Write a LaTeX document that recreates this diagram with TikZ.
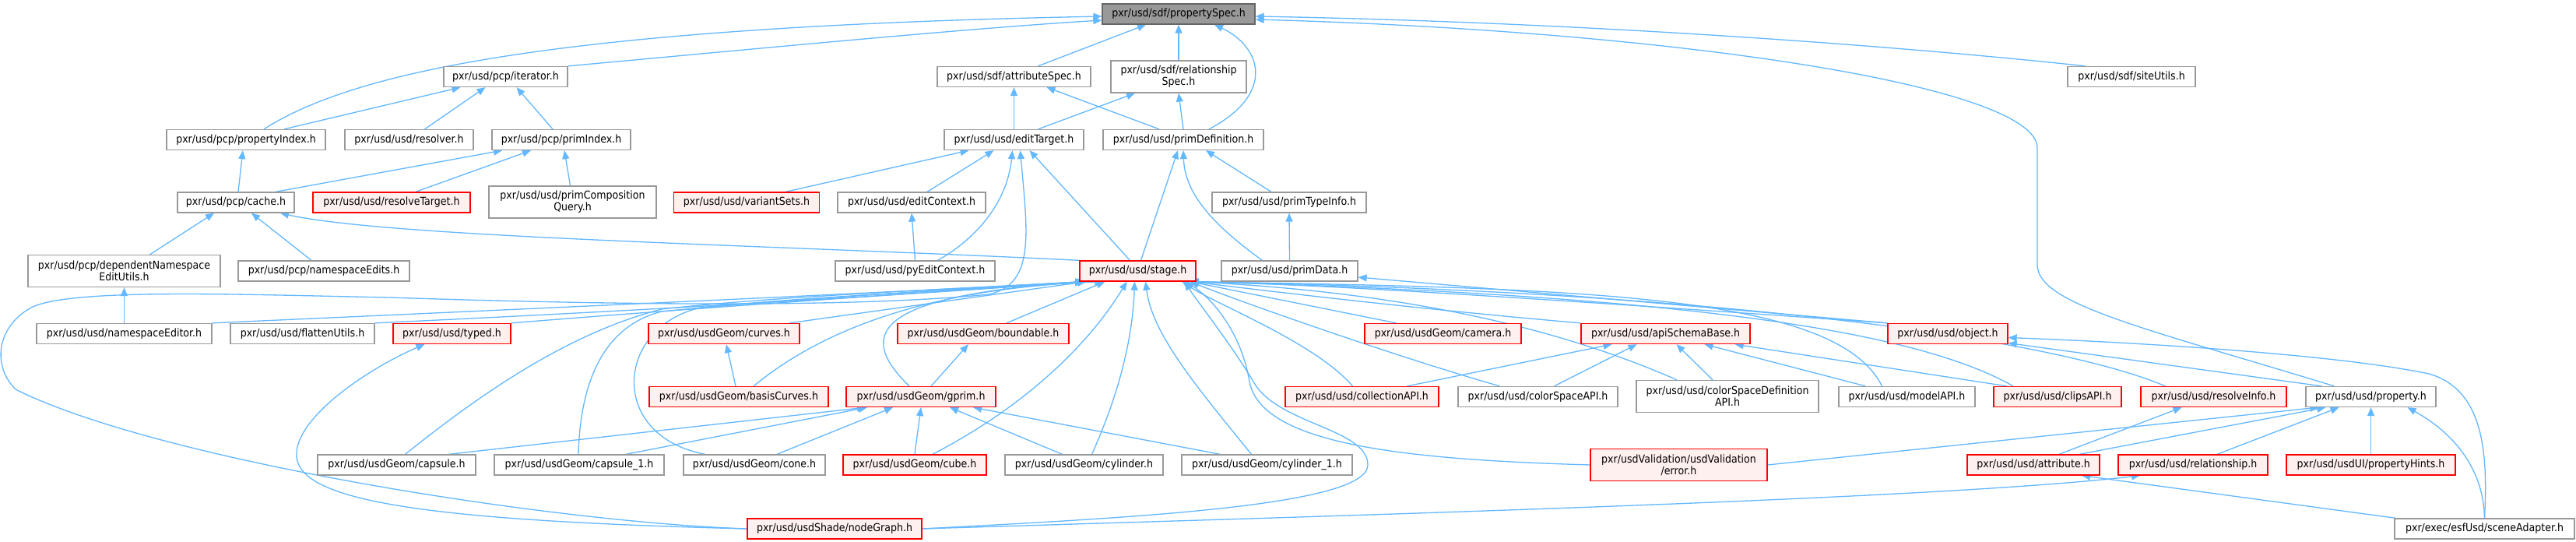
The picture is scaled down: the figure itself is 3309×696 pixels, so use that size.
\documentclass[tikz,border=0pt]{standalone}
\usepackage{fontspec}
\setmainfont{DejaVu Sans}[FakeStretch=0.9]
\usetikzlibrary{arrows.meta,backgrounds}

\definecolor{edgeblue}{HTML}{63B8FF}
\definecolor{boxgray}{HTML}{999999}
\definecolor{rootline}{HTML}{666666}
\definecolor{truncfill}{HTML}{FFF0F0}
\newcommand{\dxfont}{\fontsize{14}{15}\selectfont}

\tikzset{
  file/.style={draw=boxgray, fill=white, line width=1.3pt, minimum height=26pt, inner sep=0pt, font=\dxfont, align=center},
  trunc/.style={file, draw=red, fill=truncfill},
  rootfile/.style={file, draw=rootline, fill=boxgray},
  twoline/.style={minimum height=41pt},
  edge/.style={draw=edgeblue, line width=1.3pt, -{Triangle[length=11pt,width=9pt]}}
}

\begin{document}
\begin{tikzpicture}[x=1pt,y=-1pt]
\useasboundingbox (0,0) rectangle (3309,696);

% Text Nodes
\node[rootfile, minimum width=196pt] (spec) at (1514,18) {pxr/usd/sdf/propertySpec.h};
\node[file, minimum width=159pt] (iter) at (649.5,98.5) {pxr/usd/pcp/iterator.h};
\node[file, minimum width=197pt] (attrspec) at (1302.5,98.5) {pxr/usd/sdf/attributeSpec.h};
\node[file, twoline, minimum width=174pt] (relspec) at (1514,98.5) {pxr/usd/sdf/relationship\\Spec.h};
\node[file, minimum width=164pt] (siteutils) at (2738,98.5) {pxr/usd/sdf/siteUtils.h};

\node[file, minimum width=204pt] (propidx) at (316,179.5) {pxr/usd/pcp/propertyIndex.h};
\node[file, minimum width=165pt] (resolver) at (525.5,179.5) {pxr/usd/usd/resolver.h};
\node[file, minimum width=178pt] (primidx) at (721,179.5) {pxr/usd/pcp/primIndex.h};
\node[file, minimum width=179pt] (edittgt) at (1302.5,179.5) {pxr/usd/usd/editTarget.h};
\node[file, minimum width=206pt] (primdef) at (1520,179.5) {pxr/usd/usd/primDefinition.h};

\node[file, minimum width=150pt] (cache) at (303,260) {pxr/usd/pcp/cache.h};
\node[trunc, minimum width=202pt] (restgt) at (503,260) {pxr/usd/usd/resolveTarget.h};
\node[file, twoline, minimum width=215pt] (compq) at (735.5,259.5) {pxr/usd/usd/primComposition\\Query.h};
\node[trunc, minimum width=187pt] (variants) at (959,260) {pxr/usd/usd/variantSets.h};
\node[file, minimum width=190pt] (editctx) at (1171,260) {pxr/usd/usd/editContext.h};
\node[file, minimum width=198pt] (primtype) at (1656,260) {pxr/usd/usd/primTypeInfo.h};

\node[file, twoline, minimum width=247pt] (depns) at (159.5,348) {pxr/usd/pcp/dependentNamespace\\EditUtils.h};
\node[file, minimum width=220pt] (nsedits) at (416,348) {pxr/usd/pcp/namespaceEdits.h};
\node[file, minimum width=205pt] (pyedit) at (1175.5,348) {pxr/usd/usd/pyEditContext.h};
\node[trunc, minimum width=149pt] (stage) at (1461.5,348) {pxr/usd/usd/stage.h};
\node[file, minimum width=175pt] (primdata) at (1656.5,348) {pxr/usd/usd/primData.h};

\node[file, minimum width=225pt] (nseditor) at (159.5,428.5) {pxr/usd/usd/namespaceEditor.h};
\node[file, minimum width=185pt] (flatten) at (388.5,428.5) {pxr/usd/usd/flattenUtils.h};
\node[trunc, minimum width=151pt] (typed) at (580.5,428.5) {pxr/usd/usd/typed.h};
\node[trunc, minimum width=194pt] (curves) at (930,428.5) {pxr/usd/usdGeom/curves.h};
\node[trunc, minimum width=220pt] (bound) at (1263,428.5) {pxr/usd/usdGeom/boundable.h};
\node[trunc, minimum width=201pt] (camera) at (1853.5,428.5) {pxr/usd/usdGeom/camera.h};
\node[trunc, minimum width=217pt] (apibase) at (2139.5,428.5) {pxr/usd/usd/apiSchemaBase.h};
\node[trunc, minimum width=154pt] (object) at (2502,428.5) {pxr/usd/usd/object.h};

\node[trunc, minimum width=230pt] (basis) at (949,509.5) {pxr/usd/usdGeom/basisCurves.h};
\node[trunc, minimum width=192pt] (gprim) at (1183,509.5) {pxr/usd/usdGeom/gprim.h};
\node[trunc, minimum width=197pt] (collapi) at (1749.5,509.5) {pxr/usd/usd/collectionAPI.h};
\node[file, minimum width=205pt] (colorapi) at (1975.5,509.5) {pxr/usd/usd/colorSpaceAPI.h};
\node[file, twoline, minimum width=234pt] (colordef) at (2219,509) {pxr/usd/usd/colorSpaceDefinition\\API.h};
\node[file, minimum width=175pt] (model) at (2449.5,509.5) {pxr/usd/usd/modelAPI.h};
\node[trunc, minimum width=164pt] (clips) at (2643,509.5) {pxr/usd/usd/clipsAPI.h};
\node[trunc, minimum width=187pt] (resinfo) at (2843.5,509.5) {pxr/usd/usd/resolveInfo.h};
\node[file, minimum width=167pt] (property) at (3045.5,509.5) {pxr/usd/usd/property.h};

\node[file, minimum width=203pt] (capsule) at (509.5,597) {pxr/usd/usdGeom/capsule.h};
\node[file, minimum width=218pt] (capsule1) at (744,597) {pxr/usd/usdGeom/capsule\_1.h};
\node[file, minimum width=182pt] (cone) at (969,597) {pxr/usd/usdGeom/cone.h};
\node[trunc, minimum width=184pt] (cube) at (1175,597) {pxr/usd/usdGeom/cube.h};
\node[file, minimum width=203pt] (cyl) at (1392.5,597) {pxr/usd/usdGeom/cylinder.h};
\node[file, minimum width=219pt] (cyl1) at (1627.5,597) {pxr/usd/usdGeom/cylinder\_1.h};
\node[trunc, twoline, minimum width=227pt] (valerr) at (2156.5,597) {pxr/usdValidation/usdValidation\\/error.h};
\node[trunc, minimum width=170pt] (attr) at (2612,597) {pxr/usd/usd/attribute.h};
\node[trunc, minimum width=192pt] (rel) at (2817,597) {pxr/usd/usd/relationship.h};
\node[trunc, minimum width=217pt] (hints) at (3045.5,597) {pxr/usd/usdUI/propertyHints.h};

\node[trunc, minimum width=224pt] (nodegraph) at (1072,679) {pxr/usd/usdShade/nodeGraph.h};
\node[file, minimum width=231pt] (scene) at (3191.5,679) {pxr/exec/esfUsd/sceneAdapter.h};

\begin{scope}[on background layer]
\fill[white] (0,0) rectangle (3309,696);

% Straight Lines
\draw[edge] ([xshift=31pt]attrspec.north) -- ([xshift=-42pt]spec.south);
\draw[edge] (relspec.north) -- (spec.south);
\draw[edge] ([xshift=49pt]propidx.north) -- ([xshift=-58pt]iter.south);
\draw[edge] ([xshift=20pt]resolver.north) -- ([xshift=-26pt]iter.south);
\draw[edge] ([xshift=-11pt]primidx.north) -- ([xshift=14pt]iter.south);
\draw[edge] ([xshift=3pt]cache.north) -- ([xshift=-4pt]propidx.south);
\draw[edge] ([xshift=51pt]cache.north) -- ([xshift=-76pt]primidx.south);
\draw[edge] ([xshift=31pt]restgt.north) -- ([xshift=-39pt]primidx.south);
\draw[edge] ([xshift=-3pt]compq.north) -- ([xshift=4pt]primidx.south);
\draw[edge] ([xshift=33pt]depns.north) -- ([xshift=-28pt]cache.south);
\draw[edge] ([xshift=-16pt]nsedits.north) -- ([xshift=20pt]cache.south);
\draw[edge] (edittgt.north) -- (attrspec.south);
\draw[edge] ([xshift=-31pt]primdef.north) -- ([xshift=42pt]attrspec.south);
\draw[edge] ([xshift=31pt]edittgt.north) -- ([xshift=-56pt]relspec.south);
\draw[edge] (primdef.north) -- (relspec.south);
\draw[edge] ([xshift=50pt]variants.north) -- ([xshift=-58pt]edittgt.south);
\draw[edge] ([xshift=20pt]editctx.north) -- ([xshift=-26pt]edittgt.south);
\draw[edge] (pyedit.north) -- (editctx.south);
\draw[edge] ([xshift=-10pt]stage.north) -- ([xshift=20pt]edittgt.south);
\draw[edge] ([xshift=4pt]stage.north) -- ([xshift=-7pt]primdef.south);
\draw[edge] ([xshift=-23pt]primtype.north) -- ([xshift=29pt]primdef.south);
\draw[edge] (primdata.north) -- (primtype.south);
\draw[edge] (nseditor.north) -- (depns.south);
\draw[edge] (object.north west) -- ([yshift=-8pt]primdata.east);
\draw[edge] ([xshift=84pt]curves.north) -- ([xshift=9pt]stage.south west);
\draw[edge] ([xshift=30pt]bound.north) -- ([xshift=33pt]stage.south west);
\draw[edge] ([xshift=-60pt]camera.north) -- ([xshift=-8pt]stage.south east);
\draw[edge] ([xshift=58pt]collapi.north) -- ([xshift=-69pt]apibase.south);
\draw[edge] ([xshift=21pt]colorapi.north) -- ([xshift=-37pt]apibase.south);
\draw[edge] ([xshift=-19pt]colordef.north) -- ([xshift=14pt]apibase.south);
\draw[edge] ([xshift=-53pt]model.north) -- ([xshift=50pt]apibase.south);
\draw[edge] ([xshift=-65pt]clips.north) -- ([xshift=-20pt]apibase.south east);
\draw[edge] (valerr.east) -- ([xshift=17pt]property.south west);
\draw[edge] ([xshift=59pt]attr.north) -- ([xshift=26pt]property.south west);
\draw[edge] ([xshift=31pt]rel.north) -- ([xshift=-41pt]property.south);
\draw[edge] (hints.north) -- (property.south);
\draw[edge] ([xshift=33pt]attr.north) -- ([xshift=-41pt]resinfo.south);
\draw[edge] ([xshift=-114pt]scene.north) -- ([xshift=62pt]attr.south);
\draw[edge] ([xshift=-63pt]property.north) -- ([yshift=-12pt]object.east);
\draw[edge] ([xshift=-4pt]basis.north) -- ([xshift=3pt]curves.south);
\draw[edge] ([xshift=13pt]gprim.north) -- ([xshift=-19pt]bound.south);
\draw[edge] ([xshift=67pt]capsule.north) -- ([xshift=-71pt]gprim.south);
\draw[edge] ([xshift=60pt]capsule1.north) -- ([xshift=-69pt]gprim.south);
\draw[edge] ([xshift=29pt]cone.north) -- ([xshift=-36pt]gprim.south);
\draw[edge] (cube.north) -- (gprim.south);
\draw[edge] ([xshift=-28pt]cyl.north) -- ([xshift=37pt]gprim.south);
\draw[edge] ([xshift=-60pt]cyl1.north) -- ([xshift=67pt]gprim.south);

% Curve Lines
\draw[edge] (iter.north east) .. controls (1000,60) and (1250,36) .. ([yshift=-8pt]spec.west);
\draw[edge] ([xshift=23pt]propidx.north) .. controls (450,95) and (700,35) .. ([yshift=-3pt]spec.west);
\draw[edge] ([xshift=33pt]primdef.north) .. controls (1640,120) and (1620,60) .. ([xshift=46pt]spec.south);
\draw[edge] ([xshift=-59pt]siteutils.north) .. controls (2400,55) and (2000,28) .. ([yshift=-3pt]spec.east);
\draw[edge] ([xshift=-47pt]property.north) .. controls (2750,420) and (2617,390) .. (2617,340) -- (2617,190) .. controls (2617,110) and (2150,40) .. ([yshift=-7pt]spec.east);
\draw[edge] (stage.north west) .. controls (1000,315) and (500,305) .. ([xshift=57pt]cache.south);
\draw[edge] ([xshift=29pt]pyedit.north) .. controls (1265,300) and (1295,250) .. ([xshift=-2pt]edittgt.south);
\draw[edge] (nodegraph.west) .. controls (700,670) and (200,590) .. (20,500) .. controls (-10,470) and (-5,420) .. (40,395) .. controls (90,370) and (300,378) .. (500,382) .. controls (800,392) and (1100,395) .. (1270,378) .. controls (1330,365) and (1320,300) .. ([xshift=8pt]edittgt.south);
\draw[edge] ([xshift=-35pt]primdata.north) .. controls (1560,290) and (1522,250) .. (primdef.south);
\draw[edge] (nseditor.north east) .. controls (600,400) and (1100,378) .. ([xshift=6pt]stage.south west);
\draw[edge] (flatten.north east) .. controls (800,400) and (1150,380) .. ([xshift=6pt]stage.south west);
\draw[edge] (typed.north east) .. controls (900,395) and (1200,375) .. ([xshift=6pt]stage.south west);
\draw[edge] ([xshift=19pt]basis.north) .. controls (1060,420) and (1200,370) .. ([xshift=31pt]stage.south west);
\draw[edge] ([xshift=-15pt]gprim.north) .. controls (1100,430) and (1120,380) .. ([xshift=9pt]stage.south west);
\draw[edge] ([xshift=11pt]capsule.north) .. controls (600,520) and (720,430) .. (850,397) .. controls (1000,380) and (1250,370) .. ([xshift=6pt]stage.south west);
\draw[edge] ([xshift=-1pt]capsule1.north) .. controls (745,500) and (770,420) .. (850,400) .. controls (1000,385) and (1250,370) .. ([xshift=6pt]stage.south west);
\draw[edge] ([xshift=-63pt]cone.north) .. controls (780,560) and (790,420) .. (900,395) .. controls (1050,380) and (1250,372) .. ([xshift=6pt]stage.south west);
\draw[edge] ([xshift=23pt]cube.north) .. controls (1320,520) and (1400,440) .. ([xshift=-14pt]stage.south);
\draw[edge] ([xshift=10pt]cyl.north) .. controls (1440,500) and (1455,430) .. ([xshift=-4pt]stage.south);
\draw[edge] ([xshift=-20pt]cyl1.north) .. controls (1540,500) and (1480,430) .. ([xshift=10pt]stage.south);
\draw[edge] (nodegraph.east) .. controls (1450,665) and (1757,650) .. (1757,597) .. controls (1757,550) and (1640,545) .. (1610,490) .. controls (1580,440) and (1540,390) .. ([xshift=60pt]stage.south);
\draw[edge] (apibase.north west) .. controls (1800,395) and (1600,370) .. ([xshift=-8pt]stage.south east);
\draw[edge] (object.north west) .. controls (2000,385) and (1700,365) .. ([xshift=-8pt]stage.south east);
\draw[edge] ([xshift=-12pt]collapi.north) .. controls (1690,440) and (1560,390) .. ([xshift=-18pt]stage.south east);
\draw[edge] ([xshift=-49pt]colorapi.north) .. controls (1800,460) and (1600,390) .. ([xshift=-8pt]stage.south east);
\draw[edge] ([xshift=-65pt]colordef.north) .. controls (2000,420) and (1800,375) .. ([xshift=-8pt]stage.south east);
\draw[edge] ([xshift=-32pt]model.north) .. controls (2360,380) and (2050,370) .. ([xshift=-8pt]stage.south east);
\draw[edge] ([xshift=-57pt]clips.north) .. controls (2470,430) and (2200,380) .. ([xshift=-8pt]stage.south east);
\draw[edge] ([xshift=-62pt]resinfo.north) .. controls (2650,440) and (2250,375) .. ([xshift=-8pt]stage.south east);
\draw[edge] (valerr.west) .. controls (1800,590) and (1620,570) .. (1605,490) .. controls (1595,430) and (1560,385) .. ([xshift=-14pt]stage.south east);
\draw[edge] (scene.north) .. controls (3190,600) and (3150,555) .. ([xshift=47pt]property.south);
\draw[edge] (scene.north) .. controls (3196,580) and (3190,500) .. (3120,480) .. controls (3000,455) and (2750,440) .. ([yshift=-5pt]object.east);
\draw[edge] (nodegraph.east) .. controls (1800,660) and (2500,640) .. ([xshift=-68pt]rel.south);
\draw[edge] (nodegraph.west) .. controls (520,668) and (375,640) .. (381,580) .. controls (386,530) and (480,470) .. ([xshift=-35pt]typed.south);
\end{scope}

\end{tikzpicture}
\end{document}
